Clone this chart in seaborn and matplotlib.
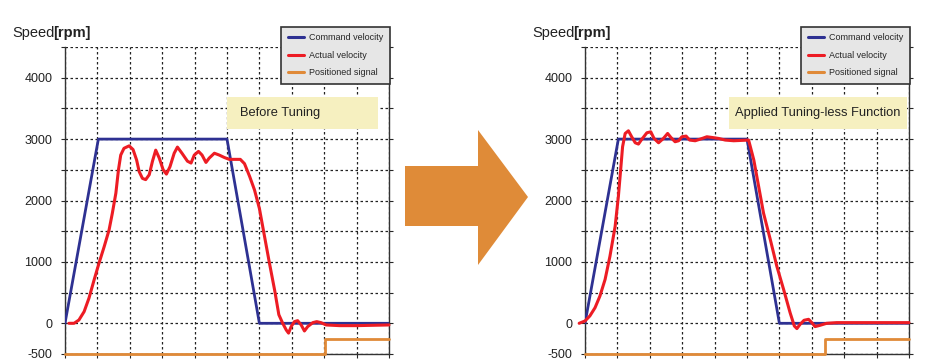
import numpy as np
import pandas as pd
import matplotlib
matplotlib.use("Agg")
import matplotlib.pyplot as plt
from matplotlib.patches import Polygon, Rectangle
from matplotlib.lines import Line2D
import seaborn as sns

# ---- data (time in grid divisions, speed in rpm) ----
cmd_t = [0, 1.03, 5.0, 6.0, 10]
cmd_v = [0, 3000, 3000, 0, 0]

before_t = [0.12, 0.28, 0.43, 0.59, 0.74, 0.9, 1.05, 1.21, 1.36, 1.46, 1.57, 1.65, 1.72,
            1.82, 1.98, 2.1, 2.21, 2.29, 2.39, 2.49, 2.6, 2.7, 2.8, 2.91, 3.03, 3.13,
            3.24, 3.37, 3.47, 3.61, 3.78, 3.89, 3.99, 4.12, 4.23, 4.35, 4.45, 4.61,
            4.76, 4.92, 5.07, 5.24, 5.41, 5.54, 5.7, 5.85, 6.0, 6.16, 6.31, 6.47, 6.6,
            6.72, 6.83, 6.9, 6.98, 7.08, 7.18, 7.29, 7.39, 7.49, 7.65, 7.77, 7.9, 8.06,
            8.47, 9.0, 10.0]
before_v = [0, 0, 54, 190, 410, 710, 980, 1250, 1520, 1790, 2120, 2500, 2740,
            2850, 2890, 2830, 2660, 2470, 2360, 2340, 2420, 2640, 2820, 2690, 2500, 2430,
            2550, 2770, 2870, 2770, 2640, 2610, 2740, 2800, 2740, 2620, 2690, 2770,
            2740, 2700, 2670, 2670, 2670, 2600, 2390, 2170, 1870, 1410, 980, 540, 140,
            0, -110, -160, -54, 27, 43, -27, -125, -54, 11, 27, 11, -27,
            -38, -38, -27]

after_t = [-0.18, 0, 0.15, 0.31, 0.46, 0.62, 0.77, 0.93, 1.03, 1.1, 1.16, 1.24, 1.34,
           1.44, 1.55, 1.65, 1.75, 1.91, 2.03, 2.13, 2.27, 2.42, 2.55, 2.65, 2.78, 2.89,
           2.99, 3.12, 3.23, 3.4, 3.56, 3.76, 3.92, 4.12, 4.33, 4.59, 5.05, 5.21, 5.36,
           5.51, 5.72, 5.92, 6.13, 6.33, 6.46, 6.54, 6.64, 6.76, 6.9, 7.0, 7.1, 7.26,
           7.46, 7.77, 8.38, 10.0]
after_v = [0, 38, 120, 254, 443, 714, 1092, 1578, 2065, 2497, 2876, 3092, 3135,
           3038, 2940, 2919, 2995, 3103, 3119, 3011, 2940, 3011, 3092, 3027, 2957, 2973,
           3038, 3049, 2984, 2973, 3000, 3038, 3027, 3011, 2984, 2973, 2984, 2660, 2227,
           1795, 1362, 930, 551, 173, -43, -86, -16, 49, 65, 11, -54, -32,
           0, 11, 11, 11]

pos_before_t = [0, 8.02, 8.02, 10]
pos_after_t = [0, 7.42, 7.42, 10]
pos_v = [-500, -500, -250, -250]

y_ticks = [-500, 0, 500, 1000, 1500, 2000, 2500, 3000, 3500, 4000, 4500]
y_labels = ["-500", "0", "", "1000", "", "2000", "", "3000", "", "4000", ""]

panels = [
    ("Before Tuning", before_t, before_v, pos_before_t),
    ("Applied Tuning-less Function", after_t, after_v, pos_after_t),
]

colors = {
    'cmd': '#2e3192',
    'act': '#ed1c24',
    'pos': '#e08a38',
    'grid': '#222222',
    'legend_bg': '#e6e6e6',
    'note_bg': '#f6f0c0',
    'arrow': '#df8b38',
    'text': '#222222',
}

sns.set_style("white")
plt.rcParams['font.family'] = ['Liberation Sans', 'DejaVu Sans']
plt.rcParams['lines.solid_joinstyle'] = 'round'
plt.rcParams['lines.solid_capstyle'] = 'round'

W, H = 928, 364
fig = plt.figure(figsize=(W / 100, H / 100), dpi=100)


def fx(px):
    return px / W


def fy(py):
    return 1 - py / H


axes_left = [65, 585]
note_boxes = [(227, 97, 378, 129), (729, 97, 907, 129)]

for i, (note, act_t, act_v, pos_t) in enumerate(panels):
    left = axes_left[i]
    ax = fig.add_axes([fx(left), fy(354), (389 - 65) / W, (354 - 47) / H])

    sns.lineplot(x=pos_t, y=pos_v, ax=ax, color=colors['pos'], linewidth=2,
                 sort=False, estimator=None, clip_on=False, zorder=3)
    sns.lineplot(x=cmd_t, y=cmd_v, ax=ax, color=colors['cmd'], linewidth=2,
                 sort=False, estimator=None, zorder=4)
    sns.lineplot(x=act_t, y=act_v, ax=ax, color=colors['act'], linewidth=2.2,
                 sort=False, estimator=None, clip_on=False, zorder=5)

    ax.set_xlim(0, 10)
    ax.set_ylim(-500, 4500)
    ax.set_xticks(range(0, 11))
    ax.set_xticklabels([])
    ax.set_yticks(y_ticks)
    ax.set_yticklabels(y_labels)
    ax.set_xlabel("")
    ax.set_ylabel("")
    ax.grid(True, color=colors['grid'], linestyle=(0, (2, 2)), linewidth=0.9)
    ax.tick_params(axis='y', which='both', direction='out', length=3, width=0.8,
                   pad=6, labelsize=9, labelcolor=colors['text'], left=True, right=True)
    ax.tick_params(axis='x', direction='out', length=3, width=0.8, bottom=True)
    for side in ['left', 'right', 'bottom']:
        ax.spines[side].set_color('#333333')
        ax.spines[side].set_linewidth(1.0)
    ax.spines['top'].set_visible(False)

    # y label "Speed[rpm]"
    fig.text(fx(left - 53), fy(33), "Speed", fontsize=10.5, color=colors['text'], va='center')
    fig.text(fx(left - 12), fy(33), "[rpm]", fontsize=10.5, fontweight='bold',
             color=colors['text'], va='center')

    # legend
    handles = [Line2D([], [], color=colors['cmd'], lw=2.2),
               Line2D([], [], color=colors['act'], lw=2.2),
               Line2D([], [], color=colors['pos'], lw=2.2)]
    leg = ax.legend(handles, ["Command velocity", "Actual velocity", "Positioned signal"],
                    loc='upper right', bbox_to_anchor=(fx(left + 325), fy(27)),
                    bbox_transform=fig.transFigure, fontsize=6.5, frameon=True,
                    fancybox=False, handlelength=1.8, labelspacing=0.95,
                    borderpad=0.7, handletextpad=0.6, borderaxespad=0)
    leg.get_frame().set_facecolor(colors['legend_bg'])
    leg.get_frame().set_edgecolor('#333333')
    leg.get_frame().set_linewidth(1.2)
    leg.get_frame().set_alpha(1)
    leg.set_zorder(10)

    # note box
    x0, y0, x1, y1 = note_boxes[i]
    fig.patches.append(Rectangle((fx(x0), fy(y1)), fx(x1 - x0), (y1 - y0) / H,
                                 transform=fig.transFigure, facecolor=colors['note_bg'],
                                 edgecolor='none', zorder=6))
    fig.text(fx(x0 + 13) if i == 0 else fx((x0 + x1) / 2), fy((y0 + y1) / 2), note,
             fontsize=9.3, color=colors['text'], va='center',
             ha='left' if i == 0 else 'center', zorder=7)

# big arrow between the panels
arrow_px = [(405, 166), (478, 166), (478, 130), (528, 197), (478, 265), (478, 226), (405, 226)]
fig.patches.append(Polygon([(fx(x), fy(y)) for x, y in arrow_px], closed=True,
                           transform=fig.transFigure, facecolor=colors['arrow'],
                           edgecolor='none'))

fig.savefig("out.png", dpi=100, facecolor='white')
